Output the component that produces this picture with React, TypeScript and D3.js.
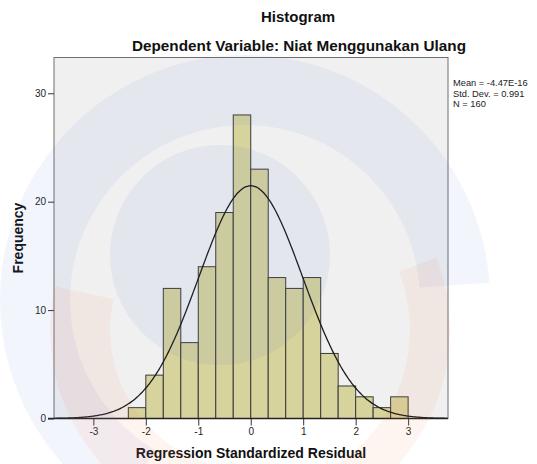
import React, { useEffect, useRef } from 'react';
import * as d3 from 'd3';

// bin edges (width 1/3) and counts
const BIN_START = [-7, -6, -5, -4, -3, -2, -1, 0, 1, 2, 3, 4, 5, 6, 7, 8].map(k => k / 3);
const BIN_WIDTH = 1 / 3;
const COUNTS = [1, 4, 12, 7, 14, 19, 28, 23, 13, 12, 13, 6, 3, 2, 1, 2];

const X_TICKS = [-3, -2, -1, 0, 1, 2, 3];
const Y_TICKS = [0, 10, 20, 30];

// stats shown in the legend (also drive the normal curve)
const MEAN = -4.47e-16;
const SD = 0.991;
const N = 160;
const LEGEND = ['Mean = -4.47E-16', 'Std. Dev. = 0.991', 'N = 160'];

const W = 537;
const H = 464;
const FONT = 'Arial, "Liberation Sans", sans-serif';

const App: React.FC = () => {
  const svgRef = useRef<SVGSVGElement>(null);

  useEffect(() => {
    if (!svgRef.current) return;
    const svg = d3.select(svgRef.current);
    svg.selectAll('*').remove();

    const left = 54, right = 448, top = 57.5, bottom = 418.5;

    const x = d3.scaleLinear().domain([-3.75, 3.76]).range([left, right]);
    const y = d3.scaleLinear().domain([0, 33.3]).range([bottom, top]);

    svg.append('rect').attr('width', W).attr('height', H).attr('fill', '#fff');

    // titles
    svg.append('text')
      .attr('x', 298).attr('y', 22)
      .attr('text-anchor', 'middle')
      .attr('font-family', FONT).attr('font-size', 15).attr('font-weight', 'bold')
      .attr('fill', '#111')
      .text('Histogram');
    svg.append('text')
      .attr('x', 299).attr('y', 51)
      .attr('text-anchor', 'middle')
      .attr('font-family', FONT).attr('font-size', 15.3).attr('font-weight', 'bold')
      .attr('fill', '#111')
      .text('Dependent Variable: Niat Menggunakan Ulang');

    // plot area
    svg.append('rect')
      .attr('x', left).attr('y', top)
      .attr('width', right - left).attr('height', bottom - top)
      .attr('fill', '#f0f0f0')
      .attr('stroke', '#6e6e6e').attr('stroke-width', 1);

    // bars
    svg.append('g')
      .selectAll('rect')
      .data(COUNTS)
      .enter()
      .append('rect')
      .attr('x', (_d, i) => x(BIN_START[i]))
      .attr('y', d => y(d))
      .attr('width', (_d, i) => x(BIN_START[i] + BIN_WIDTH) - x(BIN_START[i]))
      .attr('height', d => y(0) - y(d))
      .attr('fill', '#d7d39d')
      .attr('stroke', '#3a3a3a')
      .attr('stroke-width', 1);

    // normal curve from mean / sd / n
    const pdf = (v: number) =>
      (N * BIN_WIDTH) / (SD * Math.sqrt(2 * Math.PI)) * Math.exp(-((v - MEAN) ** 2) / (2 * SD * SD));
    const curvePts = d3.range(-3.75, 3.761, 0.02);
    svg.append('path')
      .datum(curvePts)
      .attr('d', d3.line<number>().x(v => x(v)).y(v => y(pdf(v))).curve(d3.curveBasis))
      .attr('fill', 'none')
      .attr('stroke', '#1a1a1a')
      .attr('stroke-width', 1.3);

    // axes (plain hyphen minus like SPSS)
    const fmt = (d: d3.NumberValue) => String(d);
    const yAxis = d3.axisLeft(y).tickValues(Y_TICKS).tickSize(6).tickPadding(2).tickFormat(fmt);
    const gy = svg.append('g').attr('transform', `translate(${left},0)`).call(yAxis);
    const xAxis = d3.axisBottom(x).tickValues(X_TICKS).tickSize(7).tickPadding(2).tickFormat(fmt);
    const gx = svg.append('g').attr('transform', `translate(0,${bottom})`).call(xAxis);
    [gx, gy].forEach(g => {
      g.select('.domain').remove();
      g.selectAll('line').attr('stroke', '#333');
      g.selectAll('text').attr('font-family', FONT).attr('font-size', 10).attr('fill', '#222');
    });
    svg.append('line')
      .attr('x1', left - 6).attr('x2', right)
      .attr('y1', bottom).attr('y2', bottom)
      .attr('stroke', '#222').attr('stroke-width', 1.3);

    // axis titles
    svg.append('text')
      .attr('x', (left + right) / 2).attr('y', 458)
      .attr('text-anchor', 'middle')
      .attr('font-family', FONT).attr('font-size', 14).attr('font-weight', 'bold')
      .attr('fill', '#111')
      .text('Regression Standardized Residual');
    svg.append('text')
      .attr('transform', `translate(23,${(top + bottom) / 2}) rotate(-90)`)
      .attr('text-anchor', 'middle')
      .attr('font-family', FONT).attr('font-size', 14).attr('font-weight', 'bold')
      .attr('fill', '#111')
      .text('Frequency');

    // legend
    svg.append('g')
      .selectAll('text')
      .data(LEGEND)
      .enter()
      .append('text')
      .attr('x', 453)
      .attr('y', (_d, i) => 86 + i * 10.5)
      .attr('font-family', FONT).attr('font-size', 9.3)
      .attr('fill', '#222')
      .text(d => d);

    // faint watermark laid over everything
    const wm = svg.append('g').attr('pointer-events', 'none');
    wm.append('path')
      .attr('transform', 'translate(245,300)')
      .attr('d', d3.arc()({ innerRadius: 175, outerRadius: 245, startAngle: -2.6, endAngle: 1.5 }) as string)
      .attr('fill', 'rgb(80,120,210)').attr('opacity', 0.07);
    wm.append('circle')
      .attr('cx', 220).attr('cy', 255).attr('r', 110)
      .attr('fill', 'rgb(80,120,210)').attr('opacity', 0.08);
    wm.append('path')
      .attr('transform', 'translate(250,330)')
      .attr('d', d3.arc()({ innerRadius: 160, outerRadius: 200, startAngle: 1.2, endAngle: 2.6, cornerRadius: 18 }) as string)
      .attr('fill', 'rgb(240,110,70)').attr('opacity', 0.08);
    wm.append('path')
      .attr('transform', 'translate(250,330)')
      .attr('d', d3.arc()({ innerRadius: 140, outerRadius: 200, startAngle: -2.9, endAngle: -1.35, cornerRadius: 25 }) as string)
      .attr('fill', 'rgb(240,110,70)').attr('opacity', 0.08);
  }, []);

  return <svg ref={svgRef} width={W} height={H} style={{ position: 'absolute', left: 0, top: 0 }} />;
};

export default App;
